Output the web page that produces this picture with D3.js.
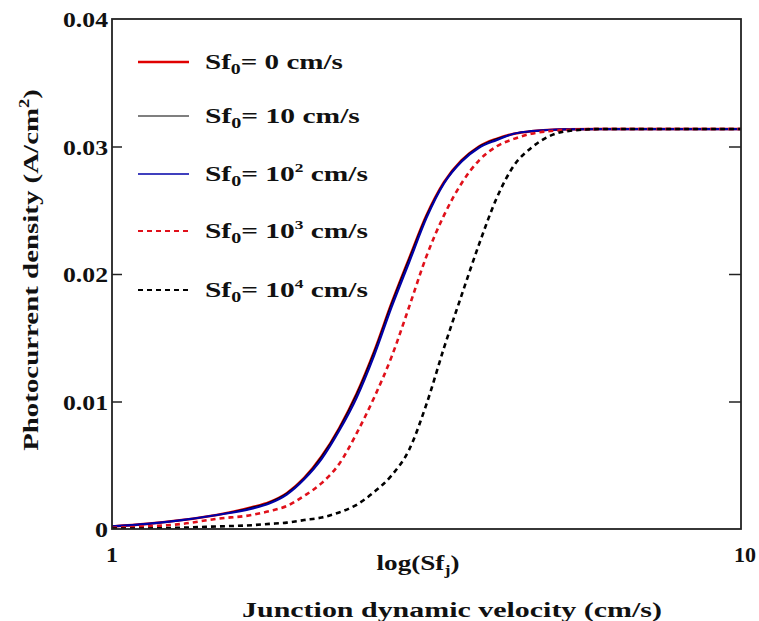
<!DOCTYPE html>
<html><head><meta charset="utf-8">
<script src="https://cdn.jsdelivr.net/npm/d3@7"></script>
<style>body{margin:0;background:#fff}</style>
</head><body><svg id="c" width="759" height="621"></svg>
<script>
// x: log(Sf_j) values along the axis, y: photocurrent density (A/cm^2)
const xVals   = [1,1.5,2,2.5,3,3.25,3.5,3.75,4,4.25,4.5,4.75,5,5.25,5.5,5.75,6,6.25,6.5,6.75,7,7.5,8,9,10];
const sf0_0   = [0.0002,0.0004,0.0007,0.0011,0.0017,0.0021,0.0028,0.0040,0.0057,0.0079,0.0106,0.0139,0.0177,0.0212,0.0246,0.0272,0.0289,0.0300,0.0306,0.0310,0.0312,0.03135,0.03137,0.03137,0.03137];
const sf0_10  = [0.0002,0.0004,0.0007,0.0011,0.0017,0.0021,0.0028,0.0040,0.0057,0.0079,0.0106,0.0139,0.0177,0.0212,0.0246,0.0272,0.0289,0.0300,0.0306,0.0310,0.0312,0.03135,0.03137,0.03137,0.03137];
const sf0_1e2 = [0.0002,0.0004,0.0007,0.0011,0.0016,0.0020,0.0027,0.0039,0.0055,0.0077,0.0103,0.0136,0.0174,0.0209,0.0244,0.0271,0.0288,0.0299,0.0305,0.0310,0.0312,0.03135,0.03137,0.03137,0.03137];
const sf0_1e3 = [0.0001,0.0002,0.0004,0.0008,0.0011,0.0014,0.0018,0.0026,0.0036,0.0051,0.0075,0.0103,0.0135,0.0174,0.0214,0.0246,0.0271,0.0289,0.0300,0.0306,0.0310,0.0313,0.03137,0.03137,0.03137];
const sf0_1e4 = [0.00003,0.00004,0.0001,0.0002,0.0003,0.0004,0.0005,0.0007,0.0009,0.0013,0.0019,0.0029,0.0042,0.0062,0.0098,0.0142,0.0183,0.0223,0.0259,0.0285,0.0299,0.0312,0.03137,0.03137,0.03137];
const yTicks = [0,0.01,0.02,0.03,0.04];
const xTickLabels = ["1","10"];
const legendLabels = [["0",null],["10",null],["10","2"],["10","3"],["10","4"]];

const FONT='"Liberation Serif","Tinos","Times New Roman","Liberation Sans",serif';

const series = [
  {v:sf0_0,   color:"#e00000", w:2.6, dash:null},
  {v:sf0_10,  color:"#000000", w:1.2, dash:null},
  {v:sf0_1e2, color:"#0000a8", w:2.2, dash:null},
  {v:sf0_1e3, color:"#e0101a", w:2.6, dash:"5,4"},
  {v:sf0_1e4, color:"#000000", w:2.6, dash:"5,4"}
];
const legendStyle = [
  {color:"#e00000", w:2.6, dash:null},
  {color:"#000000", w:1.2, dash:null},
  {color:"#0000a8", w:1.4, dash:null},
  {color:"#e0101a", w:2.2, dash:"5,4"},
  {color:"#000000", w:2.2, dash:"5,4"}
];

const L=112,R=741,T=19,B=529;
const svg=d3.select("#c");
const x=d3.scaleLinear().domain([1,10]).range([L,R]);
const y=d3.scaleLinear().domain([0,0.04]).range([B,T]);

svg.append("clipPath").attr("id","cp").append("rect").attr("x",L).attr("y",T).attr("width",R-L).attr("height",B-T);
const line=d3.line().x((d,i)=>x(xVals[i])).y(d=>y(d)).curve(d3.curveMonotoneX);
const g=svg.append("g").attr("clip-path","url(#cp)");
series.forEach(s=>{
  g.append("path").attr("d",line(s.v)).attr("fill","none").attr("stroke",s.color)
   .attr("stroke-width",s.w).attr("stroke-dasharray",s.dash);
});

function styleText(sel,size){
  sel.attr("font-family",FONT).style("font-family",FONT).style("font-weight","bold").style("fill","#111").style("font-size",size+"px");
  return sel;
}
// stretch text horizontally to the target width (reference glyphs are wide)
function stretch(sel,target,pre){
  sel.each(function(){
    const el=d3.select(this);
    const w=this.getComputedTextLength();
    const s=Math.min(1.45,target/w);
    const x0=+el.attr("x")||0, y0=+el.attr("y")||0;
    el.attr("x",0).attr("y",0).attr("transform",`translate(${x0},${y0}) ${pre||""} scale(${s.toFixed(3)},1)`);
  });
}

// axes
const yl=d3.axisLeft(y).tickValues(yTicks).tickSize(-10).tickPadding(4).tickFormat(d=>d===0?"0":d3.format(".2f")(d));
const ya=svg.append("g").attr("transform",`translate(${L},0)`).call(yl);
ya.attr("font-family",null).attr("font-size",null);
styleText(ya.selectAll("text").attr("dy","0.36em"),21);
ya.selectAll("text").each(function(d){stretch(d3.select(this),d===0?13:45);});
const yr=d3.axisRight(y).tickValues(yTicks.slice(1,4)).tickSize(-12).tickFormat("");
svg.append("g").attr("transform",`translate(${R},0)`).call(yr);
svg.selectAll(".domain").remove();
svg.selectAll(".tick line").attr("stroke","#222").attr("stroke-width",1.5);
ya.selectAll(".tick").filter(d=>d===0||d===0.04).select("line").remove();
svg.append("rect").attr("x",L).attr("y",T).attr("width",R-L).attr("height",B-T).attr("fill","none").attr("stroke","#222").attr("stroke-width",1.8);

const xt=[1,10];
const xl=styleText(svg.selectAll(".xl").data(xt).enter().append("text").attr("class","xl").attr("x",d=>x(d)+(d===10?4:0)).attr("y",562)
  .attr("text-anchor","middle").text((d,i)=>xTickLabels[i]),21);
xl.each(function(d){stretch(d3.select(this),d===10?22:12);});

const t1=styleText(svg.append("text").attr("x",418).attr("y",570).attr("text-anchor","middle"),21);
t1.append("tspan").text("log(Sf");
t1.append("tspan").attr("dy",5).style("font-size","14px").text("j");
t1.append("tspan").attr("dy",-5).text(")");
stretch(t1,83);

const bt=styleText(svg.append("text").attr("x",452).attr("y",617).attr("text-anchor","middle").text("Junction dynamic velocity (cm/s)"),22);
stretch(bt,420);

const yt=styleText(svg.append("text").attr("x",38).attr("y",270).attr("text-anchor","middle"),22);
yt.append("tspan").text("Photocurrent density (A/cm");
yt.append("tspan").attr("dy",-9).style("font-size","14px").text("2");
yt.append("tspan").attr("dy",9).text(")");
stretch(yt,362,"rotate(-90)");

// legend
const ly=[62,116,174,231,290];
const lw=[138,155,163,163,163];
legendStyle.forEach((s,i)=>{
  svg.append("line").attr("x1",138).attr("x2",189).attr("y1",ly[i]).attr("y2",ly[i])
    .attr("stroke",s.color).attr("stroke-width",s.w).attr("stroke-dasharray",s.dash);
  const t=styleText(svg.append("text").attr("x",205).attr("y",ly[i]+7),22);
  t.append("tspan").text("Sf");
  t.append("tspan").attr("dy",5).style("font-size","15px").text("0");
  t.append("tspan").attr("dy",-5).text("= "+legendLabels[i][0]);
  if(legendLabels[i][1]){t.append("tspan").attr("dy",-9).style("font-size","13px").text(legendLabels[i][1]);t.append("tspan").attr("dy",9).text(" cm/s");}
  else t.append("tspan").text(" cm/s");
  stretch(t,lw[i]);
});
</script></body></html>
